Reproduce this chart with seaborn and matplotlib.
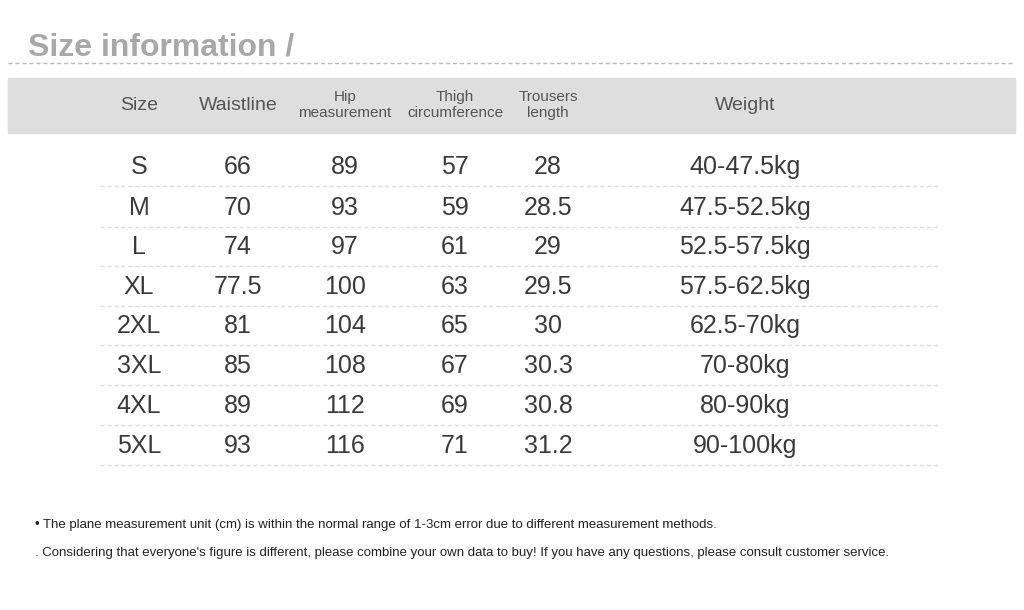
import matplotlib
matplotlib.use("Agg")
import matplotlib.pyplot as plt
import seaborn as sns

sns.set_style("white")
plt.rcParams['font.family'] = ['Liberation Sans', 'DejaVu Sans']

sizes = ["S", "M", "L", "XL", "2XL", "3XL", "4XL", "5XL"]
waistline = ["66", "70", "74", "77.5", "81", "85", "89", "93"]
hip = ["89", "93", "97", "100", "104", "108", "112", "116"]
thigh = ["57", "59", "61", "63", "65", "67", "69", "71"]
trousers = ["28", "28.5", "29", "29.5", "30", "30.3", "30.8", "31.2"]
weight = ["40-47.5kg", "47.5-52.5kg", "52.5-57.5kg", "57.5-62.5kg",
          "62.5-70kg", "70-80kg", "80-90kg", "90-100kg"]
headers = ["Size", "Waistline", "Hip\nmeasurement", "Thigh\ncircumference",
           "Trousers\nlength", "Weight"]
notes = ["• The plane measurement unit (cm) is within the normal range of 1-3cm error due to different measurement methods.",
         ". Considering that everyone's figure is different, please combine your own data to buy! If you have any questions, please consult customer service."]

col_x = [139, 238, 345, 455, 548, 745]
row_y = [167, 208, 247, 287, 326, 366, 406, 446]

fig = plt.figure(figsize=(10.24, 6.10), dpi=100)
ax = fig.add_axes([0, 0, 1, 1])
ax.set_xlim(0, 1024)
ax.set_ylim(610, 0)
ax.axis("off")

ax.text(28, 47, "Size information /", fontsize=23, fontweight="bold",
        color="#a8a8a8", va="center", ha="left")
ax.plot([8, 1015], [63, 63], ls=(0, (3, 2)), color="#bbbbbb", lw=1)

ax.add_patch(plt.Rectangle((8, 78), 1007, 55, color="#dedede", zorder=0))
hsize = [14, 14, 11, 11, 11, 14]
for x, h, fs in zip(col_x, headers, hsize):
    ax.text(x, 105, h, fontsize=fs, ha="center", va="center", color="#555555",
            linespacing=1.2)

cols = [sizes, waistline, hip, thigh, trousers, weight]
for j, col in enumerate(cols):
    for i, v in enumerate(col):
        ax.text(col_x[j], row_y[i], v, fontsize=18, ha="center", va="center",
                color="#3a3a3a")

for i in range(len(row_y)):
    yl = row_y[i] + 19
    ax.plot([100, 940], [yl, yl], ls=(0, (3, 2)), color="#dddddd", lw=1)

ax.text(35, 525, notes[0], fontsize=9.5, ha="left", va="center", color="#222222")
ax.text(35, 553, notes[1], fontsize=9.5, ha="left", va="center", color="#222222")

fig.savefig("out.png", dpi=100, facecolor="white")
